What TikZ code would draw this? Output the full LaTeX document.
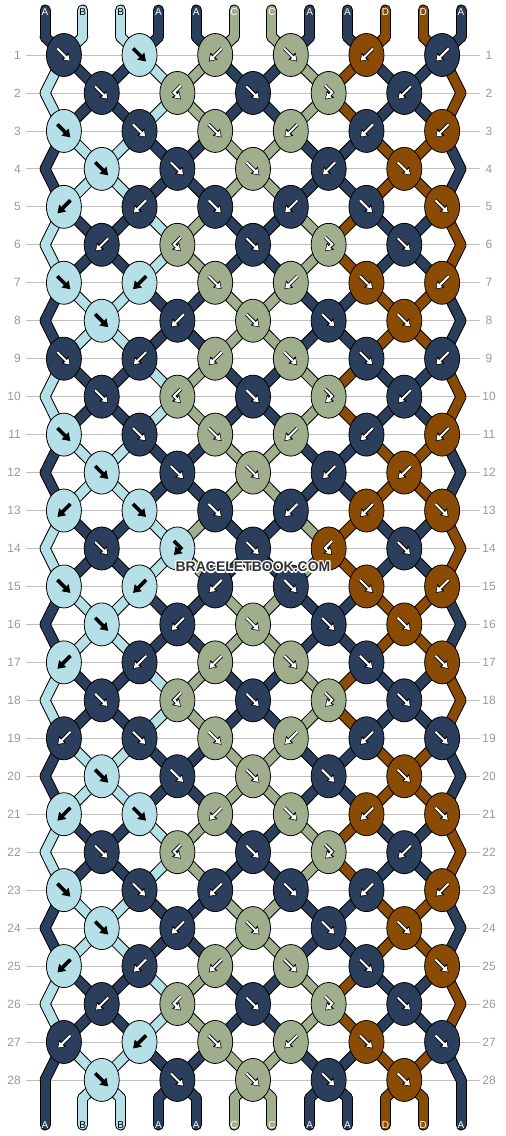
\documentclass[tikz,border=0pt]{standalone}
\usepackage{fontspec}
\setmainfont{Liberation Sans}
\usetikzlibrary{arrows.meta,shapes.geometric}

\definecolor{colA}{HTML}{2B3F5C}
\definecolor{colB}{HTML}{B5E0E8}
\definecolor{colC}{HTML}{9FAE8D}
\definecolor{colD}{HTML}{8A4B05}
\colorlet{txtA}{white}
\colorlet{txtB}{black}
\colorlet{txtC}{white}
\colorlet{txtD}{white}

\pgfdeclarelayer{grid}
\pgfdeclarelayer{strands}
\pgfsetlayers{grid,strands,main}

% text with a thin white rim
\newcommand\rimtext[1]{\leavevmode
  \rlap{\color{white}\hspace{-1.2pt}#1}\rlap{\color{white}\hspace{1.2pt}#1}%
  \rlap{\color{white}\raisebox{1.2pt}{#1}}\rlap{\color{white}\raisebox{-1.2pt}{#1}}%
  \rlap{\color{white}\hspace{-0.9pt}\raisebox{0.9pt}{#1}}\rlap{\color{white}\hspace{0.9pt}\raisebox{0.9pt}{#1}}%
  \rlap{\color{white}\hspace{-0.9pt}\raisebox{-0.9pt}{#1}}\rlap{\color{white}\hspace{0.9pt}\raisebox{-0.9pt}{#1}}%
  #1}

\tikzset{
  knot/.style={draw=black, line width=0.8pt, ellipse, minimum width=35pt, minimum height=43pt, inner sep=0pt},
  strandout/.style={line width=11pt, draw=black, line cap=round},
  strandin/.style={line width=9pt, draw=col#1, line cap=round},
  rowline/.style={draw=black!25, line width=0.8pt},
  rownum/.style={text=black!40, inner sep=0pt, font=\fontsize{12}{14}\selectfont},
  letter/.style={inner sep=0pt, font=\fontsize{10}{12}\selectfont},
  arrout/.style={line width=3.6pt, draw=black, -{Triangle[length=7.5pt,width=9.5pt]}},
  arrin/.style={line width=2pt, shorten >=1.2pt, -{Triangle[length=5pt,width=6.5pt]}},
  watermark/.style={inner sep=0pt, text=black!80, font=\bfseries\fontsize{14}{16}\selectfont}
}

\begin{document}
\begin{tikzpicture}[x=1pt,y=-1pt]
\useasboundingbox (0,0) rectangle (506,1136);

\def\sx{37.82}
\def\ry{37.96}
\def\lx{45}
\def\stA{A,B,B,A,A,C,C,A,A,D,D,A}
\def\stB{B,A,A,B,C,A,A,C,D,A,A,D}

\def\arrf{(-6.5,-6.5) -- (6.5,6.5)}
\def\arrb{(6.5,-6.5) -- (-6.5,6.5)}
\def\arrfb{(-3.5,-7.5) -- (3.5,-0.5) -- (-3.5,6.5)}
\def\arrbf{(3.5,-7.5) -- (-3.5,-0.5) -- (3.5,6.5)}

% row lines and numbers
\foreach \r in {1,...,28}
{
  \pgfmathsetmacro\ky{55+\ry*(\r-1)}
  \begin{pgfonlayer}{grid}
    \draw[rowline] (26,\ky) -- (480,\ky);
  \end{pgfonlayer}
  \node[rownum, anchor=east] (nl-\r) at (21,\ky) {\r};
  \node[rownum] (nr-\r) at (489,\ky) {\r};
}

% strand ends
\foreach \cl [count=\j from 0] in \stA
{
  \pgfmathsetmacro\sxj{\lx+\sx*\j}
  \coordinate (top-\j) at (\sxj,10);
  \coordinate (s-0-\j) at (\sxj,37);
  \coordinate (s-29-\j) at (\sxj,1098);
  \coordinate (bot-\j) at (\sxj,1125);
  \node[letter, text=txt\cl] (tl-\j) at (\sxj,12.5) {\cl};
  \node[letter, text=txt\cl] (bl-\j) at (\sxj,1125) {\cl};
}

% knots: colour/knot
\foreach \r/\knots in {
  1/{A/f,B/f,C/b,C/f,D/b,A/b},
  2/{A/f,C/bf,A/f,C/fb,A/b},
  3/{B/f,A/f,C/f,C/b,A/b,D/b},
  4/{B/f,A/f,C/f,A/b,D/f},
  5/{B/b,A/b,A/f,A/b,A/f,D/f},
  6/{A/b,C/bf,A/f,C/fb,A/f},
  7/{B/f,B/b,C/f,C/b,D/f,D/b},
  8/{B/f,A/b,C/f,A/f,D/f},
  9/{A/f,A/b,C/b,C/f,A/f,A/b},
  10/{A/f,C/bf,A/f,C/fb,A/b},
  11/{B/f,A/f,C/f,C/b,A/b,D/b},
  12/{B/f,A/f,C/f,A/b,D/b},
  13/{B/b,B/f,A/f,A/b,D/b,D/f},
  14/{A/f,B/fb,A/f,D/bf,A/f},
  15/{B/f,B/b,A/b,A/f,D/f,D/b},
  16/{B/f,A/b,C/f,A/f,D/f},
  17/{B/b,A/b,C/b,C/f,A/f,D/f},
  18/{A/f,C/bf,A/f,C/fb,A/f},
  19/{A/b,A/f,C/f,C/b,A/b,A/f},
  20/{B/f,A/f,C/f,A/f,D/f},
  21/{B/b,B/f,C/b,C/f,D/b,D/f},
  22/{A/f,C/bf,A/f,C/fb,A/b},
  23/{B/f,A/f,A/b,A/f,A/b,D/b},
  24/{B/f,A/b,C/f,A/f,D/f},
  25/{B/b,A/b,C/b,C/f,A/f,D/f},
  26/{A/b,C/bf,A/f,C/fb,A/f},
  27/{A/b,B/b,C/f,C/b,D/f,A/f},
  28/{B/f,A/f,C/f,A/f,D/f}}
{
  \pgfmathsetmacro\ky{55+\ry*(\r-1)}
  \pgfmathtruncatemacro\ev{mod(\r+1,2)}
  \ifnum\ev=1
    \coordinate (s-\r-0) at (\lx,\ky);
    \coordinate (s-\r-11) at (\lx+11*\sx,\ky);
  \fi
  \foreach \cl/\ty [count=\c from 0] in \knots
  {
    \pgfmathtruncatemacro\ja{2*\c+\ev}
    \pgfmathtruncatemacro\jb{\ja+1}
    \pgfmathsetmacro\kx{\lx+\sx*(\ja+0.5)}
    \node[knot, fill=col\cl, name=k-\r-\c, alias=s-\r-\ja, alias=s-\r-\jb] at (\kx,\ky) {};
    \expandafter\let\expandafter\arrpath\csname arr\ty\endcsname
    \begin{scope}[shift={(\kx,\ky)}]
      \draw[arrout] \arrpath;
      \draw[arrin, draw=txt\cl] \arrpath;
    \end{scope}
  }
}

% strands between the rows
\begin{pgfonlayer}{strands}
\foreach \pass in {out,in}
{
  \foreach \g in {0,...,28}
  {
    \pgfmathtruncatemacro\h{\g+1}
    \pgfmathtruncatemacro\ph{mod(floor((\g+1)/2),2)}
    \ifnum\ph=0 \let\st\stA \else \let\st\stB \fi
    \foreach \cl [count=\j from 0] in \st
      \draw[strand\pass=\cl] (s-\g-\j.center) -- (s-\h-\j.center);
  }
  \foreach \cl [count=\j from 0] in \stA
  {
    \draw[strand\pass=\cl] (top-\j) -- (s-0-\j);
    \draw[strand\pass=\cl] (s-29-\j) -- (bot-\j);
  }
}
\end{pgfonlayer}

\node[watermark] (wm) at (253,567) {\rimtext{BRACELETBOOK.COM}};

\end{tikzpicture}
\end{document}
